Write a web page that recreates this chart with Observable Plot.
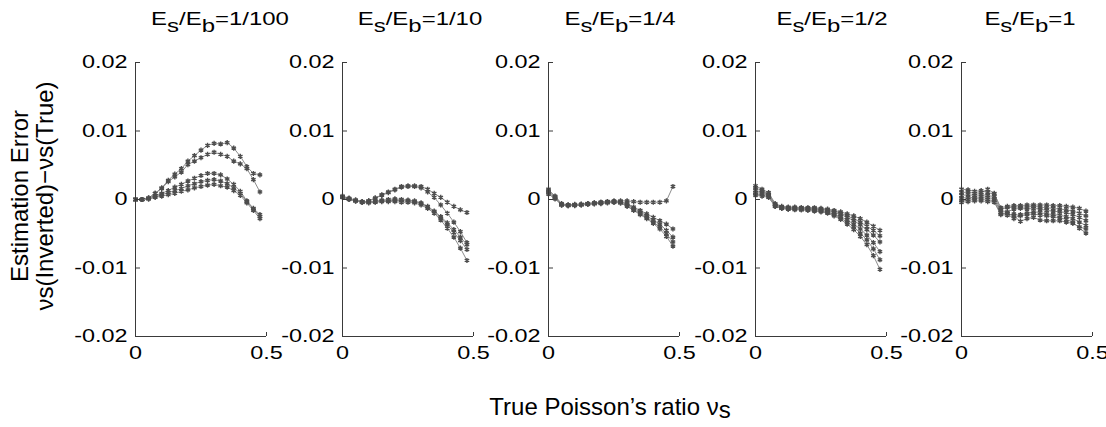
<!DOCTYPE html>
<html>
<head>
<meta charset="utf-8">
<script src="https://cdn.jsdelivr.net/npm/d3@7"></script>
<script src="https://cdn.jsdelivr.net/npm/@observablehq/plot@0.6"></script>
<style>
  html, body { margin: 0; padding: 0; background: #fff; }
  #chart { position: relative; width: 1106px; height: 427px; overflow: hidden; background: #fff;
           font-family: "Liberation Sans", Arial, sans-serif; color: #000; }
  #chart svg { position: absolute; }
  .title { position: absolute; width: 300px; text-align: center; font-size: 18px; line-height: 18px;
           white-space: nowrap; transform: scaleX(1.33); transform-origin: 50% 50%; }
  .title .sb { position: relative; top: 7px; }
  .ylab { position: absolute; font-size: 24px; line-height: 25px; white-space: nowrap; text-align: center;
          transform: translate(-50%, -50%) rotate(-90deg); }
  .xlab { position: absolute; width: 400px; text-align: center; font-size: 24px; line-height: 25px;
          white-space: nowrap; }
  .xlab .sb { position: relative; top: 3px; }
</style>
</head>
<body>
<div id="chart"></div>
<script>
// ---- data ----
const panelRatios = ["1/100", "1/10", "1/4", "1/2", "1"];
const nu = [0, 0.025, 0.05, 0.075, 0.1, 0.125, 0.15, 0.175, 0.2, 0.225, 0.25, 0.275, 0.3, 0.325, 0.35, 0.375, 0.4, 0.425, 0.45, 0.475];
const yTicks = [0.02, 0.01, 0, -0.01, -0.02];
const yTickLabels = ["0.02", "0.01", "0", "-0.01", "-0.02"];
const xTicks = [0, 0.5];
const xTickLabels = ["0", "0.5"];

const err_1_100 = [
  [0, 0, 0.0002, 0.0009, 0.0017, 0.0028, 0.0037, 0.0045, 0.0056, 0.0064, 0.0072, 0.0079, 0.0082, 0.0081, 0.0083, 0.0075, 0.0063, 0.0048, 0.0038, 0.0036],
  [0, 0, 0.0002, 0.0009, 0.0016, 0.0026, 0.0033, 0.0040, 0.0051, 0.0056, 0.0061, 0.0066, 0.0069, 0.0066, 0.0063, 0.0056, 0.0052, 0.0045, 0.0029, 0.0011],
  [0, 0, 0.0002, 0.0006, 0.0009, 0.0013, 0.0018, 0.0022, 0.0027, 0.0031, 0.0035, 0.0038, 0.0038, 0.0036, 0.0030, 0.0022, 0.0012, -0.0002, -0.0013, -0.0022],
  [0, 0, 0.0001, 0.0004, 0.0007, 0.0010, 0.0013, 0.0016, 0.0020, 0.0023, 0.0026, 0.0028, 0.0029, 0.0027, 0.0023, 0.0017, 0.0009, -0.0003, -0.0014, -0.0025],
  [0, 0, 0.0001, 0.0003, 0.0005, 0.0007, 0.0009, 0.0012, 0.0014, 0.0017, 0.0019, 0.0021, 0.0022, 0.0020, 0.0018, 0.0013, 0.0006, -0.0005, -0.0016, -0.0028]
];
const err_1_10 = [
  [0.0004, 0.0001, -0.0002, -0.0004, -0.0002, 0.0002, 0.0007, 0.0011, 0.0015, 0.0019, 0.0020, 0.0020, 0.0019, 0.0015, 0.0009, 0.0003, -0.0004, -0.0010, -0.0015, -0.0019],
  [0.0004, 0.0001, -0.0002, -0.0004, -0.0002, 0.0002, 0.0006, 0.0010, 0.0014, 0.0018, 0.0019, 0.0019, 0.0017, 0.0011, 0.0003, -0.0008, -0.0020, -0.0033, -0.0047, -0.0063],
  [0.0004, 0.0001, -0.0001, -0.0003, -0.0003, -0.0003, -0.0002, -0.0002, -0.0001, -0.0002, -0.0002, -0.0003, -0.0006, -0.0011, -0.0018, -0.0027, -0.0037, -0.0048, -0.0060, -0.0073],
  [0.0003, 0.0000, -0.0002, -0.0004, -0.0005, -0.0004, -0.0003, -0.0003, -0.0003, -0.0004, -0.0004, -0.0005, -0.0008, -0.0013, -0.0020, -0.0030, -0.0042, -0.0055, -0.0071, -0.0089],
  [0.0005, 0.0002, -0.0001, -0.0003, -0.0004, -0.0003, -0.0001, 0.0000, 0.0001, 0.0000, -0.0001, -0.0002, -0.0005, -0.0010, -0.0017, -0.0025, -0.0034, -0.0044, -0.0055, -0.0066]
];
const err_1_4 = [
  [0.0015, 0.0004, -0.0008, -0.0008, -0.0007, -0.0007, -0.0006, -0.0006, -0.0005, -0.0004, -0.0003, -0.0002, -0.0002, -0.0003, -0.0004, -0.0004, -0.0004, -0.0004, -0.0002, 0.0019],
  [0.0012, 0.0003, -0.0007, -0.0008, -0.0008, -0.0007, -0.0006, -0.0005, -0.0004, -0.0003, -0.0002, -0.0003, -0.0006, -0.0011, -0.0016, -0.0021, -0.0026, -0.0031, -0.0036, -0.0043],
  [0.0010, 0.0002, -0.0008, -0.0009, -0.0008, -0.0007, -0.0006, -0.0005, -0.0004, -0.0003, -0.0003, -0.0004, -0.0007, -0.0013, -0.0018, -0.0024, -0.0030, -0.0036, -0.0045, -0.0055],
  [0.0008, 0.0001, -0.0008, -0.0009, -0.0009, -0.0008, -0.0007, -0.0006, -0.0005, -0.0004, -0.0004, -0.0005, -0.0009, -0.0015, -0.0020, -0.0026, -0.0033, -0.0040, -0.0050, -0.0062],
  [0.0013, 0.0005, -0.0006, -0.0008, -0.0008, -0.0008, -0.0007, -0.0006, -0.0006, -0.0005, -0.0004, -0.0005, -0.0010, -0.0016, -0.0022, -0.0028, -0.0035, -0.0043, -0.0054, -0.0068]
];
const err_1_2 = [
  [0.0020, 0.0015, 0.0010, -0.0006, -0.0010, -0.0011, -0.0011, -0.0012, -0.0012, -0.0012, -0.0013, -0.0014, -0.0016, -0.0018, -0.0021, -0.0024, -0.0028, -0.0033, -0.0039, -0.0045],
  [0.0017, 0.0013, 0.0008, -0.0007, -0.0011, -0.0012, -0.0012, -0.0012, -0.0013, -0.0013, -0.0014, -0.0015, -0.0017, -0.0020, -0.0024, -0.0028, -0.0033, -0.0039, -0.0045, -0.0053],
  [0.0013, 0.0011, 0.0007, -0.0008, -0.0012, -0.0012, -0.0013, -0.0013, -0.0013, -0.0014, -0.0015, -0.0016, -0.0019, -0.0022, -0.0026, -0.0031, -0.0037, -0.0044, -0.0052, -0.0062],
  [0.0010, 0.0009, 0.0006, -0.0009, -0.0012, -0.0013, -0.0013, -0.0014, -0.0014, -0.0015, -0.0016, -0.0018, -0.0021, -0.0025, -0.0030, -0.0036, -0.0043, -0.0052, -0.0063, -0.0076],
  [0.0008, 0.0007, 0.0004, -0.0010, -0.0013, -0.0014, -0.0014, -0.0015, -0.0015, -0.0016, -0.0017, -0.0019, -0.0022, -0.0027, -0.0033, -0.0040, -0.0049, -0.0059, -0.0072, -0.0088],
  [0.0006, 0.0005, 0.0003, -0.0010, -0.0013, -0.0014, -0.0015, -0.0015, -0.0016, -0.0017, -0.0018, -0.0020, -0.0024, -0.0029, -0.0036, -0.0044, -0.0054, -0.0066, -0.0082, -0.0102]
];
const err_1_1 = [
  [0.0015, 0.0014, 0.0012, 0.0013, 0.0010, 0.0008, -0.0012, -0.0010, -0.0009, -0.0009, -0.0008, -0.0008, -0.0008, -0.0008, -0.0009, -0.0009, -0.0010, -0.0011, -0.0013, -0.0017],
  [0.0010, 0.0011, 0.0009, 0.0010, 0.0015, 0.0009, -0.0014, -0.0012, -0.0011, -0.0011, -0.0011, -0.0010, -0.0011, -0.0012, -0.0013, -0.0014, -0.0015, -0.0017, -0.0020, -0.0024],
  [0.0006, 0.0007, 0.0006, 0.0007, 0.0006, 0.0004, -0.0016, -0.0018, -0.0014, -0.0013, -0.0014, -0.0013, -0.0014, -0.0016, -0.0017, -0.0018, -0.0019, -0.0022, -0.0026, -0.0031],
  [0.0002, 0.0003, 0.0003, 0.0004, 0.0003, 0.0001, -0.0019, -0.0021, -0.0028, -0.0022, -0.0020, -0.0018, -0.0019, -0.0021, -0.0022, -0.0023, -0.0025, -0.0028, -0.0033, -0.0038],
  [-0.0002, 0.0000, 0.0001, 0.0001, 0.0000, -0.0002, -0.0021, -0.0020, -0.0024, -0.0032, -0.0028, -0.0026, -0.0030, -0.0031, -0.0031, -0.0031, -0.0033, -0.0035, -0.0040, -0.0043],
  [-0.0004, -0.0003, -0.0002, -0.0002, -0.0003, -0.0004, -0.0022, -0.0023, -0.0021, -0.0024, -0.0022, -0.0021, -0.0023, -0.0024, -0.0025, -0.0027, -0.0029, -0.0033, -0.0042, -0.0049]
];
const panelSeries = [err_1_100, err_1_10, err_1_4, err_1_2, err_1_1];

// ---- layout ----
const chart = document.getElementById("chart");
const axisLeft0 = 135, axisStep = 206.5, plotW = 131;
const plotTop = 61.5, plotH = 274;
const ML = 70, MR = 30, MT = 10, MB = 45;
const titleCenters = [220, 420, 620, 832, 1030];
const yLabelMap = new Map(yTicks.map((d, i) => [d, yTickLabels[i]]));
const xLabelMap = new Map(xTicks.map((d, i) => [d, xTickLabels[i]]));

function stretchText(svg, k) {
  svg.querySelectorAll("text").forEach(t => {
    const w = t.getComputedTextLength();
    if (w > 0) {
      t.setAttribute("textLength", (w * k).toFixed(2));
      t.setAttribute("lengthAdjust", "spacingAndGlyphs");
    }
  });
}

panelSeries.forEach((series, p) => {
  const rows = series.flatMap((vals, s) => vals.map((v, i) => ({nu: nu[i], err: v, s})));
  const svg = Plot.plot({
    width: ML + plotW + MR,
    height: MT + plotH + MB,
    marginLeft: ML, marginRight: MR, marginTop: MT, marginBottom: MB,
    x: {domain: [0, 0.5], axis: null},
    y: {domain: [-0.02, 0.02], axis: null},
    style: {background: "transparent", overflow: "visible", fontSize: "18px",
            fontFamily: "'Liberation Sans', Arial, sans-serif", color: "#000"},
    marks: [
      Plot.line(rows, {x: "nu", y: "err", z: "s", stroke: "#8c8c8c", strokeWidth: 1}),
      Plot.dot(rows, {x: "nu", y: "err", symbol: "asterisk", r: 2.4, stroke: "#4d4d4d", strokeWidth: 1.4}),
      Plot.ruleX([0], {stroke: "#3a3a3a", strokeWidth: 1}),
      Plot.ruleY([-0.02], {stroke: "#3a3a3a", strokeWidth: 1}),
      Plot.axisY(yTicks, {tickSize: -5, tickPadding: 13, label: null, stroke: "#3a3a3a",
                          tickFormat: d => yLabelMap.get(d)}),
      Plot.axisX(xTicks, {tickSize: -4, tickPadding: 14, label: null, stroke: "#3a3a3a",
                          tickFormat: d => xLabelMap.get(d)})
    ]
  });
  const axisX = axisLeft0 + p * axisStep;
  svg.style.left = (axisX - ML) + "px";
  svg.style.top = (plotTop - MT) + "px";
  chart.appendChild(svg);
  stretchText(svg, 1.3);

  const t = document.createElement("div");
  t.className = "title";
  t.style.left = (titleCenters[p] - 150) + "px";
  t.style.top = "10px";
  t.innerHTML = 'E<span class="sb">s</span>/E<span class="sb">b</span>=' + panelRatios[p];
  chart.appendChild(t);
});

const yl = document.createElement("div");
yl.className = "ylab";
yl.style.left = "32px";
yl.style.top = "196px";
yl.innerHTML = "Estimation Error<br>νs(Inverted)−νs(True)";
chart.appendChild(yl);

const xl = document.createElement("div");
xl.className = "xlab";
xl.style.left = (610 - 200) + "px";
xl.style.top = "394px";
xl.innerHTML = 'True Poisson’s ratio ν<span class="sb">s</span>';
chart.appendChild(xl);
</script>
</body>
</html>
